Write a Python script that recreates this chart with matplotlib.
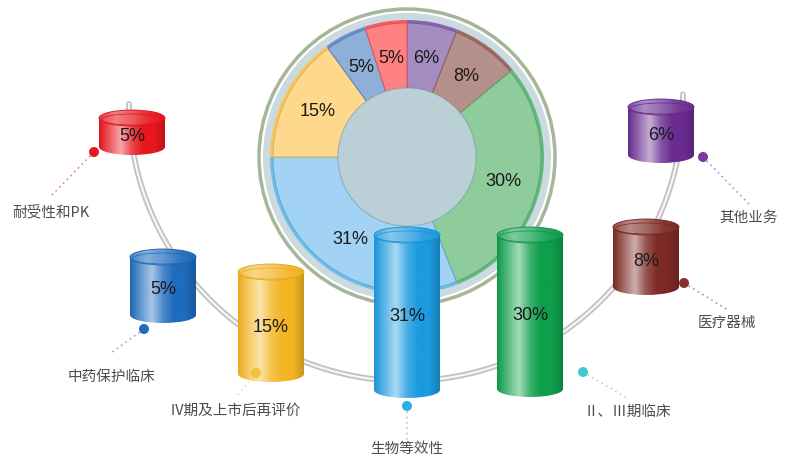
import numpy as np
import matplotlib
matplotlib.use("Agg")
import matplotlib.pyplot as plt
from matplotlib.patches import Ellipse, Rectangle, Circle
from matplotlib.colors import to_rgb, LinearSegmentedColormap

plt.rcParams["font.family"] = ["Noto Sans CJK SC", "DejaVu Sans"]

W, H = 787, 469

# order: clockwise round the donut, starting at 12 o'clock
categories = ["其他业务", "医疗器械", "Ⅱ、Ⅲ期临床", "生物等效性",
              "Ⅳ期及上市后再评价", "中药保护临床", "耐受性和PK"]
values = [6, 8, 30, 31, 15, 5, 5]
cyl_colors = ["#6a2c91", "#7e2a25", "#0e9f4b", "#1c9ae0", "#f4b524", "#1f6cbd", "#e8161e"]
ring_light = ["#a58cc0", "#b58f89", "#8fcc9b", "#a2d3f4", "#fdd88d", "#8eafd7", "#ff8282"]
ring_dark = ["#8a63b0", "#9c6a63", "#62b97b", "#6cbdeb", "#f6c660", "#6690c8", "#f75a60"]
dot_colors = ["#7a3a9e", "#8a2f2a", "#3ec8d0", "#2aaee6", "#f7c236", "#1f6cbd", "#e8161e"]

# layout in pixels (x right, y down)
cyl_x = [661, 646, 530, 407, 271, 163, 132]
cyl_top = [107, 227, 235, 235, 272, 257, 118]
cyl_bot = [155, 287, 389, 390, 374, 315, 147]
dot_xy = [(703, 157), (684, 283), (583, 372), (407, 406), (256, 373), (144, 329), (94, 152)]
line_end = [(750, 205), (728, 310), (627, 398), (407, 440), (236, 397), (111, 353), (50, 197)]
label_xy = [(749, 218), (727, 323), (627, 412), (407, 449), (235, 411), (111, 377), (51, 212)]

donut_c = (407, 157)


def shade(c, f):
    c = np.array(to_rgb(c))
    return tuple(c + (1 - c) * f) if f > 0 else tuple(c * (1 + f))


def grad_fill(ax, patch, cmap, x0, x1, y0, y1, z):
    patch.set_facecolor("none")
    patch.set_edgecolor("none")
    patch.set_zorder(z)
    ax.add_patch(patch)
    im = ax.imshow(np.linspace(0, 1, 256)[None, :], cmap=cmap, extent=(x0, x1, y1, y0),
                   aspect="auto", zorder=z, interpolation="bicubic")
    im.set_clip_path(patch)


def cylinder(ax, x, top, bot, color, w=66, eh=16, z=6):
    body_cmap = LinearSegmentedColormap.from_list(
        "b", [shade(color, -0.05), shade(color, 0.3), shade(color, 0.62),
              shade(color, 0.2), color, color, shade(color, -0.18)])
    top_cmap = LinearSegmentedColormap.from_list(
        "t", [shade(color, 0.15), shade(color, 0.45), shade(color, 0.3),
              shade(color, 0.08), color])
    x0, x1 = x - w / 2, x + w / 2
    grad_fill(ax, Ellipse((x, bot), w, eh), body_cmap, x0, x1, top, bot + eh / 2, z)
    grad_fill(ax, Rectangle((x0, top), w, bot - top), body_cmap, x0, x1, top, bot, z)
    grad_fill(ax, Ellipse((x, top), w, eh), top_cmap, x0, x1, top - eh / 2, top + eh / 2, z + 0.1)
    ax.add_patch(Ellipse((x, top), w, eh, facecolor="none",
                         edgecolor=shade(color, -0.1), lw=0.6, zorder=z + 0.2))
    ax.add_patch(Ellipse((x, top + 1.5), w - 5, eh - 5, facecolor="none",
                         edgecolor=shade(color, -0.05), lw=0.5, zorder=z + 0.2))


fig = plt.figure(figsize=(W / 100, H / 100), dpi=100)
ax = fig.add_axes([0, 0, 1, 1])

# grey track linking the cylinders
t = np.radians(np.linspace(-2, 180, 400))
arc_x = 406 + 277 * np.cos(t)
arc_y = 104 + 277 * np.sin(t)
ax.plot(arc_x, arc_y, color="#c2c2c2", lw=4.2, zorder=1, solid_capstyle="round")
ax.plot(arc_x, arc_y, color="#f6f6f6", lw=1.6, zorder=1.1)

# donut frame
ax.add_patch(Circle(donut_c, 148, facecolor="white", edgecolor="#a6b698", lw=2.5, zorder=2))
ax.add_patch(Circle(donut_c, 144, facecolor="#cbdadf", edgecolor="none", zorder=2.1))

# y axis is inverted, so counterclock=True runs clockwise on screen
wedges, _ = ax.pie(values, colors=ring_dark, startangle=-90, counterclock=True,
                   center=donut_c, radius=137, wedgeprops=dict(width=68, lw=0))
for w in wedges:
    w.set_zorder(3)
wedges2, _, pct = ax.pie(values, colors=ring_light, startangle=-90, counterclock=True,
                         center=donut_c, radius=134, autopct=lambda p: f"{p:.0f}%",
                         pctdistance=100 / 134, wedgeprops=dict(width=65, lw=0.7),
                         textprops=dict(fontsize=13, color="#1a1a1a",
                                        family=["Liberation Sans", "DejaVu Sans"]))
for w, c in zip(wedges2, ring_dark):
    w.set_zorder(3.2)
    w.set_edgecolor(shade(c, -0.1))
for p in pct:
    p.set_zorder(3.5)
ax.add_patch(Circle(donut_c, 69, facecolor="#bacfd6", edgecolor="#8fb0bd", lw=0.6, zorder=3.3))

# cylinders, leader dots and labels
for i, v in enumerate(values):
    cylinder(ax, cyl_x[i], cyl_top[i], cyl_bot[i], cyl_colors[i], z=6 + i * 0.5)
    ax.text(cyl_x[i], (cyl_top[i] + cyl_bot[i]) / 2 + 4, f"{v}%", ha="center", va="center",
            fontsize=13, color="#1a1a1a", family=["Liberation Sans", "DejaVu Sans"],
            zorder=10)
    dx, dy = dot_xy[i]
    ex, ey = line_end[i]
    ax.plot([dx, ex], [dy, ey], color=shade(dot_colors[i], 0.45), lw=1.2,
            ls=(0, (1, 2.2)), zorder=5)
    ax.add_patch(Circle((dx, dy), 5, facecolor=dot_colors[i], edgecolor="none", zorder=11))
    ax.text(label_xy[i][0], label_xy[i][1], categories[i], ha="center", va="center",
            fontsize=10.5, color="#4d4d4d", zorder=10)

ax.set_xlim(0, W)
ax.set_ylim(H, 0)
ax.set_aspect("auto")
ax.axis("off")
fig.savefig("out.png", dpi=100, facecolor="white")
